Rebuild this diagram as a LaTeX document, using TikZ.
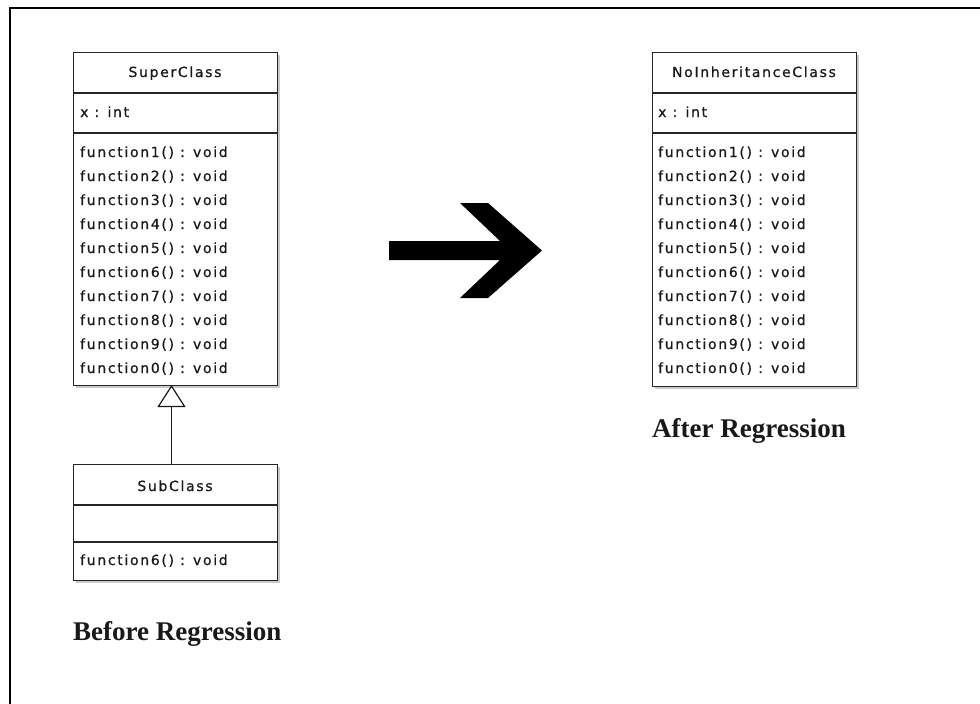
\documentclass[tikz,border=0pt]{standalone}
\usepackage{fontspec}
\usetikzlibrary{arrows.meta,shadows}
\newfontfamily\umlfont{DejaVu Sans}[LetterSpace=12, FakeBold=0.6]
\newfontfamily\capfont{Liberation Serif}
\begin{document}
\begin{tikzpicture}[x=1pt,y=-1pt,
  classbox/.style={draw=black!85, line width=1.3pt, fill=white, rectangle, inner sep=0pt,
    anchor=north west, minimum width=204pt,
    drop shadow={shadow xshift=2pt, shadow yshift=-2pt, fill=black!35, opacity=0.6}},
  sepline/.style={draw=black!85, line width=1.3pt},
  umltext/.style={font=\umlfont\fontsize{14}{16}\selectfont, anchor=base west, inner sep=0pt, text=black!90},
  umlhead/.style={umltext, anchor=base},
  captext/.style={font=\capfont\bfseries\fontsize{27}{30}\selectfont, anchor=base west, inner sep=0pt, text=black!90},
  bigarrow/.style={fill=black, draw=none},
  inherit/.style={draw=black!90, line width=1.2pt, -{Triangle[open, length=22pt, width=28pt, line width=1.2pt]}}
]
\useasboundingbox (0,0) rectangle (980,704);
% outer frame
\draw[line width=2.5pt] (10,704) -- (10,8) -- (980,8);

% SuperClass
\node[classbox, minimum height=333pt] (super) at (73,52) {};
\draw[sepline] (super.west |- 0,93) -- (super.east |- 0,93);
\draw[sepline] (super.west |- 0,133) -- (super.east |- 0,133);
\node[umlhead] (superName) at (175,77) {SuperClass};
\node[umltext] (superAttr) at (80,117) {x : int};
\foreach \n/\d in {1/1,2/2,3/3,4/4,5/5,6/6,7/7,8/8,9/9,10/0}{
  \node[umltext] (superF\n) at (80,{157+24*(\n-1)}) {function\d() : void};
}

% SubClass
\node[classbox, minimum height=116pt] (sub) at (73,464) {};
\draw[sepline] (sub.west |- 0,505) -- (sub.east |- 0,505);
\draw[sepline] (sub.west |- 0,542) -- (sub.east |- 0,542);
\node[umlhead] (subName) at (175,491) {SubClass};
\node[umltext] (subF) at (80,565) {function6() : void};

% inheritance
\coordinate (tip) at (171.5,385);
\draw[inherit] (tip |- sub.north) -- (tip);

% NoInheritanceClass
\node[classbox, minimum height=334pt] (noinh) at (652,52) {};
\draw[sepline] (noinh.west |- 0,93) -- (noinh.east |- 0,93);
\draw[sepline] (noinh.west |- 0,133) -- (noinh.east |- 0,133);
\node[umlhead] (noinhName) at (754,77) {NoInheritanceClass};
\node[umltext] (noinhAttr) at (658,117) {x : int};
\foreach \n/\d in {1/1,2/2,3/3,4/4,5/5,6/6,7/7,8/8,9/9,10/0}{
  \node[umltext] (noinhF\n) at (658,{157+24*(\n-1)}) {function\d() : void};
}

% big arrow
\fill[bigarrow] (389,241) -- (500,241) -- (460,203) -- (488,203) -- (542,250.5)
  -- (488,298) -- (460,298) -- (500,260) -- (389,260) -- cycle;

% captions
\node[captext] (before) at (73,640) {Before Regression};
\node[captext] (after) at (652,437) {After Regression};
\end{tikzpicture}
\end{document}
